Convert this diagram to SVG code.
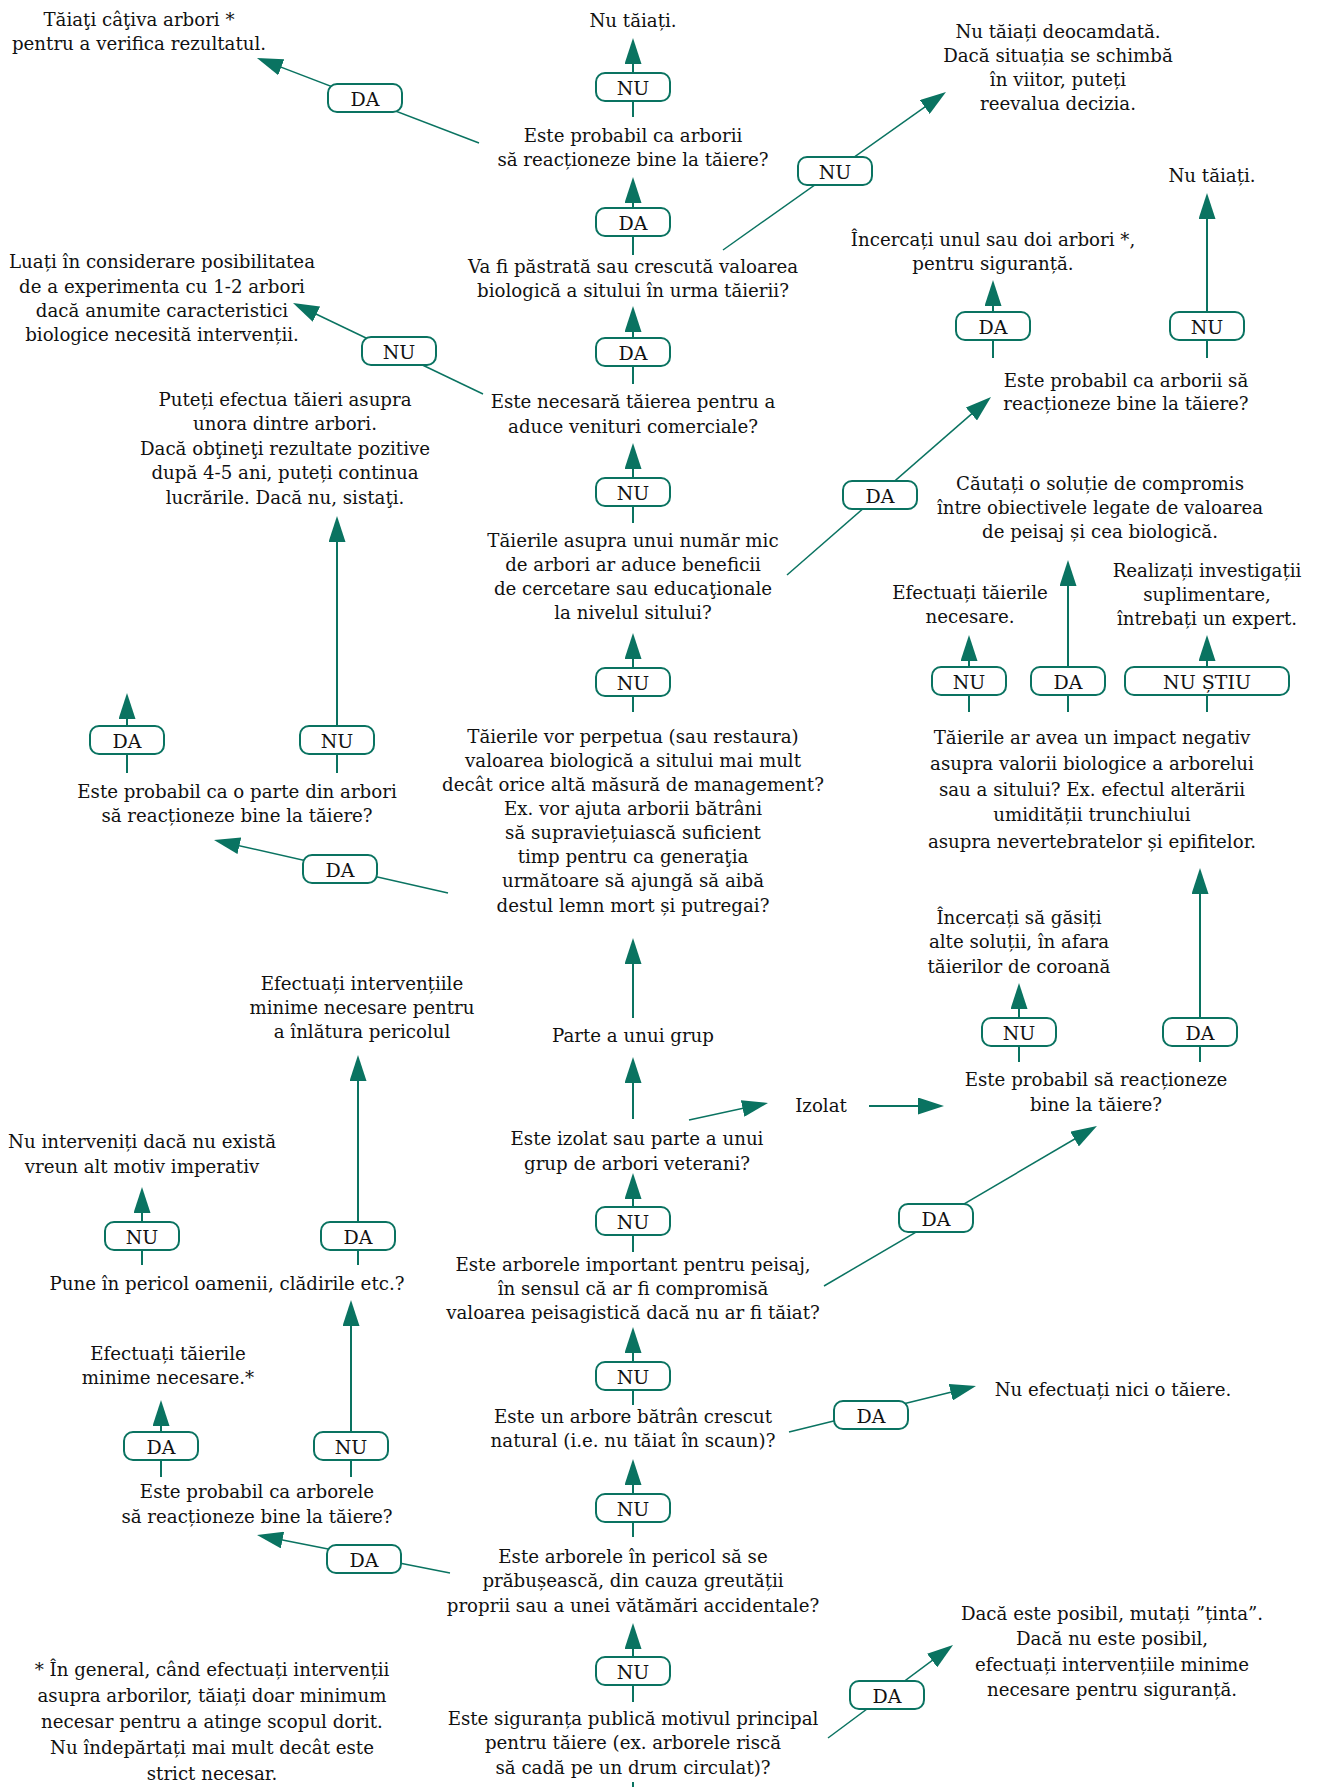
<svg xmlns="http://www.w3.org/2000/svg" width="1320" height="1787" viewBox="0 0 1320 1787">
<defs>
<style>
.t{font-family:"DejaVu Serif","Liberation Serif",serif;font-size:18.2px;fill:#111;text-anchor:middle}
.k{font-size:19px}
.c{stroke:#0a7361;stroke-width:2;fill:none;marker-end:url(#ah)}
.d{stroke:#0a7361;stroke-width:1.5;fill:none;marker-end:url(#ah)}
.p{stroke:#0a7361;stroke-width:2;fill:none}
.b{fill:#fff;stroke:#0a7361;stroke-width:2}
</style>
<marker id="ah" markerUnits="userSpaceOnUse" markerWidth="26" markerHeight="17" viewBox="0 0 26 17" refX="22" refY="8.5" orient="auto"><path d="M0,0 L26,8.5 L0,17 z" fill="#0a7361"/></marker>
</defs>
<rect width="1320" height="1787" fill="#fff"/>

<g id="connectors">
<line class="c" x1="633" y1="117" x2="633" y2="42"/>
<line class="c" x1="633" y1="255" x2="633" y2="181"/>
<line class="c" x1="633" y1="384" x2="633" y2="310"/>
<line class="c" x1="633" y1="523" x2="633" y2="447"/>
<line class="c" x1="633" y1="712" x2="633" y2="637"/>
<line class="c" x1="633" y1="1018" x2="633" y2="942"/>
<line class="c" x1="633" y1="1119" x2="633" y2="1061"/>
<line class="c" x1="633" y1="1252" x2="633" y2="1177"/>
<line class="c" x1="633" y1="1405" x2="633" y2="1331"/>
<line class="c" x1="633" y1="1537" x2="633" y2="1463"/>
<line class="c" x1="633" y1="1702" x2="633" y2="1627"/>
<line class="p" x1="633" y1="1787" x2="633" y2="1782"/>

<line class="c" x1="993" y1="358" x2="993" y2="284"/>
<line class="c" x1="1207" y1="358" x2="1207" y2="197"/>
<line class="c" x1="969" y1="712" x2="969" y2="639"/>
<line class="c" x1="1068" y1="712" x2="1068" y2="564"/>
<line class="c" x1="1207" y1="712" x2="1207" y2="639"/>
<line class="c" x1="1019" y1="1062" x2="1019" y2="987"/>
<line class="c" x1="1200" y1="1062" x2="1200" y2="872"/>

<line class="c" x1="127" y1="773" x2="127" y2="697"/>
<line class="c" x1="337" y1="773" x2="337" y2="520"/>
<line class="c" x1="142" y1="1265" x2="142" y2="1191"/>
<line class="c" x1="358" y1="1265" x2="358" y2="1059"/>
<line class="c" x1="161" y1="1477" x2="161" y2="1404"/>
<line class="c" x1="351" y1="1477" x2="351" y2="1304"/>

<line class="d" x1="479" y1="143" x2="260.7" y2="59.4"/>
<line class="d" x1="723" y1="250" x2="942.7" y2="94.3"/>
<line class="d" x1="483" y1="394" x2="296.6" y2="304.7"/>
<line class="d" x1="787" y1="575" x2="988" y2="399.6"/>
<line class="d" x1="448" y1="893" x2="217.9" y2="840.9"/>
<line class="d" x1="689" y1="1120" x2="764.1" y2="1103.8"/>
<line class="c" x1="869" y1="1106" x2="940" y2="1106"/>
<line class="d" x1="824" y1="1286" x2="1093.5" y2="1128"/>
<line class="d" x1="789" y1="1432" x2="972.1" y2="1387"/>
<line class="d" x1="450" y1="1573" x2="260.9" y2="1535.8"/>
<line class="d" x1="828" y1="1738" x2="949.8" y2="1647.4"/>
</g>

<g id="edge-labels">
<g id="l1"><rect class="b" x="596" y="73" width="74" height="28" rx="9"/><text class="t k" x="633" y="95">NU</text></g>
<g id="l2"><rect class="b" x="596" y="208" width="74" height="28" rx="9"/><text class="t k" x="633" y="230">DA</text></g>
<g id="l3"><rect class="b" x="596" y="338" width="74" height="28" rx="9"/><text class="t k" x="633" y="360">DA</text></g>
<g id="l4"><rect class="b" x="596" y="478" width="74" height="28" rx="9"/><text class="t k" x="633" y="500">NU</text></g>
<g id="l5"><rect class="b" x="596" y="668" width="74" height="28" rx="9"/><text class="t k" x="633" y="690">NU</text></g>
<g id="l6"><rect class="b" x="596" y="1207" width="74" height="28" rx="9"/><text class="t k" x="633" y="1229">NU</text></g>
<g id="l7"><rect class="b" x="596" y="1362" width="74" height="28" rx="9"/><text class="t k" x="633" y="1384">NU</text></g>
<g id="l8"><rect class="b" x="596" y="1494" width="74" height="28" rx="9"/><text class="t k" x="633" y="1516">NU</text></g>
<g id="l9"><rect class="b" x="596" y="1657" width="74" height="28" rx="9"/><text class="t k" x="633" y="1679">NU</text></g>

<g id="l10"><rect class="b" x="956" y="312" width="74" height="28" rx="9"/><text class="t k" x="993" y="334">DA</text></g>
<g id="l11"><rect class="b" x="1170" y="312" width="74" height="28" rx="9"/><text class="t k" x="1207" y="334">NU</text></g>
<g id="l12"><rect class="b" x="932" y="667" width="74" height="28" rx="9"/><text class="t k" x="969" y="689">NU</text></g>
<g id="l13"><rect class="b" x="1031" y="667" width="74" height="28" rx="9"/><text class="t k" x="1068" y="689">DA</text></g>
<g id="l14"><rect class="b" x="1125" y="667" width="164" height="28" rx="9"/><text class="t k" x="1207" y="689">NU ȘTIU</text></g>
<g id="l15"><rect class="b" x="982" y="1018" width="74" height="28" rx="9"/><text class="t k" x="1019" y="1040">NU</text></g>
<g id="l16"><rect class="b" x="1163" y="1018" width="74" height="28" rx="9"/><text class="t k" x="1200" y="1040">DA</text></g>

<g id="l17"><rect class="b" x="90" y="726" width="74" height="28" rx="9"/><text class="t k" x="127" y="748">DA</text></g>
<g id="l18"><rect class="b" x="300" y="726" width="74" height="28" rx="9"/><text class="t k" x="337" y="748">NU</text></g>
<g id="l19"><rect class="b" x="105" y="1222" width="74" height="28" rx="9"/><text class="t k" x="142" y="1244">NU</text></g>
<g id="l20"><rect class="b" x="321" y="1222" width="74" height="28" rx="9"/><text class="t k" x="358" y="1244">DA</text></g>
<g id="l21"><rect class="b" x="124" y="1432" width="74" height="28" rx="9"/><text class="t k" x="161" y="1454">DA</text></g>
<g id="l22"><rect class="b" x="314" y="1432" width="74" height="28" rx="9"/><text class="t k" x="351" y="1454">NU</text></g>

<g id="l23"><rect class="b" x="328" y="84" width="74" height="28" rx="9"/><text class="t k" x="365" y="106">DA</text></g>
<g id="l24"><rect class="b" x="798" y="157" width="74" height="28" rx="9"/><text class="t k" x="835" y="179">NU</text></g>
<g id="l25"><rect class="b" x="362" y="337" width="74" height="28" rx="9"/><text class="t k" x="399" y="359">NU</text></g>
<g id="l26"><rect class="b" x="843" y="481" width="74" height="28" rx="9"/><text class="t k" x="880" y="503">DA</text></g>
<g id="l27"><rect class="b" x="303" y="855" width="74" height="28" rx="9"/><text class="t k" x="340" y="877">DA</text></g>
<g id="l28"><rect class="b" x="899" y="1204" width="74" height="28" rx="9"/><text class="t k" x="936" y="1226">DA</text></g>
<g id="l29"><rect class="b" x="834" y="1401" width="74" height="28" rx="9"/><text class="t k" x="871" y="1423">DA</text></g>
<g id="l30"><rect class="b" x="327" y="1545" width="74" height="28" rx="9"/><text class="t k" x="364" y="1567">DA</text></g>
<g id="l31"><rect class="b" x="850" y="1681" width="74" height="28" rx="9"/><text class="t k" x="887" y="1703">DA</text></g>
</g>

<g id="n1"><text class="t" x="139" y="26">Tăiaţi câţiva arbori *</text><text class="t" x="139" y="50">pentru a verifica rezultatul.</text></g>
<g id="n2"><text class="t" x="633" y="27">Nu tăiați.</text></g>
<g id="n3"><text class="t" x="633" y="142">Este probabil ca arborii</text><text class="t" x="633" y="166">să reacționeze bine la tăiere?</text></g>
<g id="n4"><text class="t" x="1058" y="38">Nu tăiați deocamdată.</text><text class="t" x="1058" y="62">Dacă situația se schimbă</text><text class="t" x="1058" y="86">în viitor, puteți</text><text class="t" x="1058" y="110">reevalua decizia.</text></g>
<g id="n5"><text class="t" x="633" y="273">Va fi păstrată sau crescută valoarea</text><text class="t" x="633" y="297">biologică a sitului în urma tăierii?</text></g>
<g id="n6"><text class="t" x="1212" y="182">Nu tăiați.</text></g>
<g id="n7"><text class="t" x="993" y="246">Încercați unul sau doi arbori *,</text><text class="t" x="993" y="270">pentru siguranță.</text></g>
<g id="n8"><text class="t" x="162" y="268">Luați în considerare posibilitatea</text><text class="t" x="162" y="293">de a experimenta cu 1-2 arbori</text><text class="t" x="162" y="317">dacă anumite caracteristici</text><text class="t" x="162" y="341">biologice necesită intervenții.</text></g>
<g id="n9"><text class="t" x="633" y="408">Este necesară tăierea pentru a</text><text class="t" x="633" y="433">aduce venituri comerciale?</text></g>
<g id="n10"><text class="t" x="1126" y="387">Este probabil ca arborii să</text><text class="t" x="1126" y="410">reacționeze bine la tăiere?</text></g>
<g id="n11"><text class="t" x="285" y="406">Puteți efectua tăieri asupra</text><text class="t" x="285" y="430">unora dintre arbori.</text><text class="t" x="285" y="455">Dacă obţineţi rezultate pozitive</text><text class="t" x="285" y="479">după 4-5 ani, puteți continua</text><text class="t" x="285" y="504">lucrările. Dacă nu, sistaţi.</text></g>
<g id="n12"><text class="t" x="633" y="547">Tăierile asupra unui număr mic</text><text class="t" x="633" y="571">de arbori ar aduce beneficii</text><text class="t" x="633" y="595">de cercetare sau educaţionale</text><text class="t" x="633" y="619">la nivelul sitului?</text></g>
<g id="n13"><text class="t" x="1100" y="490">Căutați o soluție de compromis</text><text class="t" x="1100" y="514">între obiectivele legate de valoarea</text><text class="t" x="1100" y="538">de peisaj și cea biologică.</text></g>
<g id="n14"><text class="t" x="970" y="599">Efectuați tăierile</text><text class="t" x="970" y="623">necesare.</text></g>
<g id="n15"><text class="t" x="1207" y="577">Realizați investigații</text><text class="t" x="1207" y="601">suplimentare,</text><text class="t" x="1207" y="625">întrebați un expert.</text></g>
<g id="n16"><text class="t" x="237" y="798">Este probabil ca o parte din arbori</text><text class="t" x="237" y="822">să reacționeze bine la tăiere?</text></g>
<g id="n17"><text class="t" x="633" y="743">Tăierile vor perpetua (sau restaura)</text><text class="t" x="633" y="767">valoarea biologică a sitului mai mult</text><text class="t" x="633" y="791">decât orice altă măsură de management?</text><text class="t" x="633" y="815">Ex. vor ajuta arborii bătrâni</text><text class="t" x="633" y="839">să supraviețuiască suficient</text><text class="t" x="633" y="863">timp pentru ca generaţia</text><text class="t" x="633" y="887">următoare să ajungă să aibă</text><text class="t" x="633" y="912">destul lemn mort și putregai?</text></g>
<g id="n18"><text class="t" x="1092" y="744">Tăierile ar avea un impact negativ</text><text class="t" x="1092" y="770">asupra valorii biologice a arborelui</text><text class="t" x="1092" y="796">sau a sitului? Ex. efectul alterării</text><text class="t" x="1092" y="821">umidității trunchiului</text><text class="t" x="1092" y="848">asupra nevertebratelor și epifitelor.</text></g>
<g id="n19"><text class="t" x="1019" y="924">Încercați să găsiți</text><text class="t" x="1019" y="948">alte soluții, în afara</text><text class="t" x="1019" y="973">tăierilor de coroană</text></g>
<g id="n20"><text class="t" x="362" y="990">Efectuați intervențiile</text><text class="t" x="362" y="1014">minime necesare pentru</text><text class="t" x="362" y="1038">a înlătura pericolul</text></g>
<g id="n21"><text class="t" x="633" y="1042">Parte a unui grup</text></g>
<g id="n22"><text class="t" x="1096" y="1086">Este probabil să reacționeze</text><text class="t" x="1096" y="1111">bine la tăiere?</text></g>
<g id="n23"><text class="t" x="821" y="1112">Izolat</text></g>
<g id="n24"><text class="t" x="637" y="1145">Este izolat sau parte a unui</text><text class="t" x="637" y="1170">grup de arbori veterani?</text></g>
<g id="n25"><text class="t" x="142" y="1148">Nu interveniți dacă nu există</text><text class="t" x="142" y="1173">vreun alt motiv imperativ</text></g>
<g id="n26"><text class="t" x="227" y="1290">Pune în pericol oamenii, clădirile etc.?</text></g>
<g id="n27"><text class="t" x="633" y="1271">Este arborele important pentru peisaj,</text><text class="t" x="633" y="1295">în sensul că ar fi compromisă</text><text class="t" x="633" y="1319">valoarea peisagistică dacă nu ar fi tăiat?</text></g>
<g id="n28"><text class="t" x="168" y="1360">Efectuați tăierile</text><text class="t" x="168" y="1384">minime necesare.*</text></g>
<g id="n29"><text class="t" x="1113" y="1396">Nu efectuați nici o tăiere.</text></g>
<g id="n30"><text class="t" x="633" y="1423">Este un arbore bătrân crescut</text><text class="t" x="633" y="1447">natural (i.e. nu tăiat în scaun)?</text></g>
<g id="n31"><text class="t" x="257" y="1498">Este probabil ca arborele</text><text class="t" x="257" y="1523">să reacționeze bine la tăiere?</text></g>
<g id="n32"><text class="t" x="633" y="1563">Este arborele în pericol să se</text><text class="t" x="633" y="1587">prăbușească, din cauza greutății</text><text class="t" x="633" y="1612">proprii sau a unei vătămări accidentale?</text></g>
<g id="n33"><text class="t" x="1112" y="1620">Dacă este posibil, mutați ”ținta”.</text><text class="t" x="1112" y="1645">Dacă nu este posibil,</text><text class="t" x="1112" y="1671">efectuați intervențiile minime</text><text class="t" x="1112" y="1696">necesare pentru siguranță.</text></g>
<g id="n34"><text class="t" x="212" y="1676">* În general, când efectuați intervenții</text><text class="t" x="212" y="1702">asupra arborilor, tăiați doar minimum</text><text class="t" x="212" y="1728">necesar pentru a atinge scopul dorit.</text><text class="t" x="212" y="1754">Nu îndepărtați mai mult decât este</text><text class="t" x="212" y="1780">strict necesar.</text></g>
<g id="n35"><text class="t" x="633" y="1725">Este siguranța publică motivul principal</text><text class="t" x="633" y="1749">pentru tăiere (ex. arborele riscă</text><text class="t" x="633" y="1774">să cadă pe un drum circulat)?</text></g>
</svg>
